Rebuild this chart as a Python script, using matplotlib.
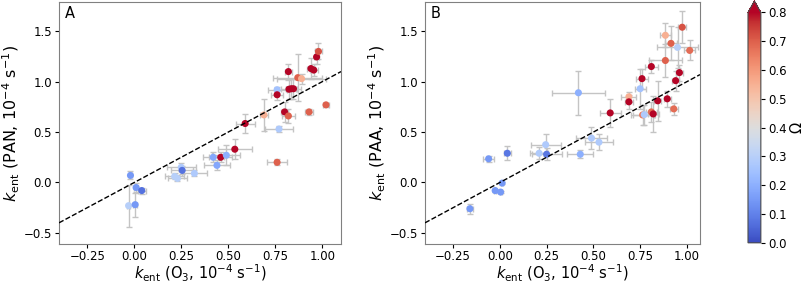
import numpy as np
import matplotlib.pyplot as plt

# panel A: k_ent(PAN) vs k_ent(O3)
xa = [-0.02, 0.01, 0.04, -0.03, 0.005, 0.25, 0.255, 0.215, 0.23, 0.32,
      0.42, 0.46, 0.44, 0.49, 0.535, 0.59, 0.69, 0.77, 0.76, 0.76,
      0.76, 0.80, 0.82, 0.82, 0.823, 0.835, 0.847, 0.87, 0.89, 0.93,
      1.02, 0.94, 0.955, 0.97, 0.98]
ya = [0.07, -0.05, -0.08, -0.23, -0.22, 0.15, 0.12, 0.06, 0.04, 0.09,
      0.25, 0.25, 0.17, 0.27, 0.33, 0.585, 0.67, 0.53, 0.20, 0.92,
      0.87, 0.70, 0.66, 1.10, 0.925, 0.93, 0.93, 1.04, 1.03, 0.70,
      0.77, 1.13, 1.115, 1.245, 1.30]
xea = [0.01, 0.01, 0.02, 0.01, 0.01, 0.077, 0.06, 0.05, 0.05, 0.065,
       0.055, 0.06, 0.07, 0.075, 0.09, 0.05, 0.02, 0.075, 0.053, 0.05,
       0.03, 0.02, 0.035, 0.02, 0.04, 0.03, 0.04, 0.13, 0.13, 0.02,
       0.015, 0.02, 0.02, 0.015, 0.02]
yea = [0.04, 0.04, 0.03, 0.21, 0.12, 0.04, 0.04, 0.03, 0.03, 0.03,
       0.05, 0.05, 0.05, 0.1, 0.1, 0.09, 0.16, 0.03, 0.03, 0.03,
       0.05, 0.1, 0.07, 0.08, 0.1, 0.1, 0.1, 0.23, 0.05, 0.03,
       0.02, 0.1, 0.06, 0.07, 0.08]
wa = [0.15, 0.15, 0.07, 0.3, 0.15, 0.28, 0.07, 0.3, 0.3, 0.28,
      0.18, 0.85, 0.18, 0.2, 0.8, 0.82, 0.55, 0.28, 0.7, 0.25,
      0.82, 0.82, 0.7, 0.82, 0.85, 0.85, 0.85, 0.7, 0.55, 0.7,
      0.7, 0.85, 0.85, 0.82, 0.72]

# panel B: k_ent(PAA) vs k_ent(O3)
xb = [-0.16, -0.06, 0.04, -0.025, 0.004, 0.012, 0.21, 0.245, 0.25, 0.42,
      0.43, 0.49, 0.53, 0.59, 0.69, 0.69, 0.75, 0.76, 0.763, 0.772,
      0.81, 0.82, 0.81, 0.844, 0.885, 0.885, 0.895, 0.915, 0.93, 0.94,
      0.95, 0.96, 0.975, 1.015]
yb = [-0.26, 0.235, 0.29, -0.08, -0.095, -0.006, 0.29, 0.375, 0.28, 0.89,
      0.28, 0.44, 0.40, 0.69, 0.85, 0.80, 0.93, 1.03, 0.67, 0.673,
      0.70, 0.68, 1.15, 0.81, 1.21, 1.46, 0.83, 1.38, 0.73, 1.01,
      1.34, 1.09, 1.54, 1.31]
xeb = [0.015, 0.03, 0.02, 0.005, 0.005, 0.005, 0.05, 0.08, 0.08, 0.14,
       0.07, 0.085, 0.077, 0.057, 0.04, 0.02, 0.03, 0.03, 0.06, 0.06,
       0.03, 0.03, 0.035, 0.02, 0.09, 0.03, 0.02, 0.03, 0.02, 0.02,
       0.11, 0.02, 0.02, 0.03]
yeb = [0.05, 0.03, 0.07, 0.01, 0.01, 0.01, 0.06, 0.11, 0.06, 0.22,
       0.04, 0.11, 0.08, 0.14, 0.05, 0.07, 0.2, 0.1, 0.1, 0.1,
       0.1, 0.18, 0.06, 0.2, 0.16, 0.12, 0.08, 0.17, 0.06, 0.1,
       0.2, 0.08, 0.16, 0.1]
wb = [0.15, 0.15, 0.08, 0.15, 0.15, 0.15, 0.28, 0.28, 0.08, 0.2,
      0.2, 0.28, 0.28, 0.8, 0.55, 0.85, 0.25, 0.82, 0.65, 0.28,
      0.68, 0.85, 0.82, 0.82, 0.7, 0.55, 0.82, 0.7, 0.68, 0.85,
      0.3, 0.85, 0.72, 0.68]

panels = [("A", "PAN", xa, ya, xea, yea, wa, (-0.4, 1.1)),
          ("B", "PAA", xb, yb, xeb, yeb, wb, (-0.4, 1.07))]

fig = plt.figure(figsize=(8.03, 2.85), dpi=100)
boxes = [[0.0735, 0.1439, 0.3512, 0.849], [0.5293, 0.1439, 0.3424, 0.849]]

for box, (tag, name, x, y, xe, ye, w, xl) in zip(boxes, panels):
    ax = fig.add_axes(box)
    ax.errorbar(x, y, xerr=xe, yerr=ye, fmt="none", ecolor="#c4c4c4",
                elinewidth=1, capsize=2.5, zorder=1)
    sc = ax.scatter(x, y, c=w, cmap="coolwarm", vmin=0, vmax=0.8, s=26,
                    edgecolors="none", zorder=2)
    ax.plot(xl, xl, "k--", lw=1, zorder=3)
    ax.set_xlim(xl)
    ax.set_ylim(-0.61, 1.79)
    ax.set_xticks([-0.25, 0, 0.25, 0.5, 0.75, 1.0])
    ax.set_yticks([-0.5, 0, 0.5, 1.0, 1.5])
    ax.tick_params(labelsize=8.5, length=3, pad=2)
    ax.tick_params(axis="x", pad=1.5)
    for s in ax.spines.values():
        s.set_edgecolor("0.5")
    ax.set_xlabel(r"$k_{\rm ent}$ (O$_3$, 10$^{-4}$ s$^{-1}$)", fontsize=10.5,
                  labelpad=-0.3)
    ax.set_ylabel(r"$k_{\rm ent}$ (%s, 10$^{-4}$ s$^{-1}$)" % name,
                  fontsize=11.5, labelpad=1)
    ax.text(0.02, 0.985, tag, transform=ax.transAxes, ha="left", va="top",
            fontsize=10.5)

cax = fig.add_axes([0.9315, 0.148, 0.016, 0.8486])
cb = fig.colorbar(sc, cax=cax, extend="max", ticks=np.arange(0, 0.81, 0.1))
cb.set_label("Ω", fontsize=10.5, labelpad=2)
cb.ax.tick_params(labelsize=8.5, length=3, pad=2)
cb.outline.set_edgecolor("0.3")

plt.savefig("out.png", dpi=100)
